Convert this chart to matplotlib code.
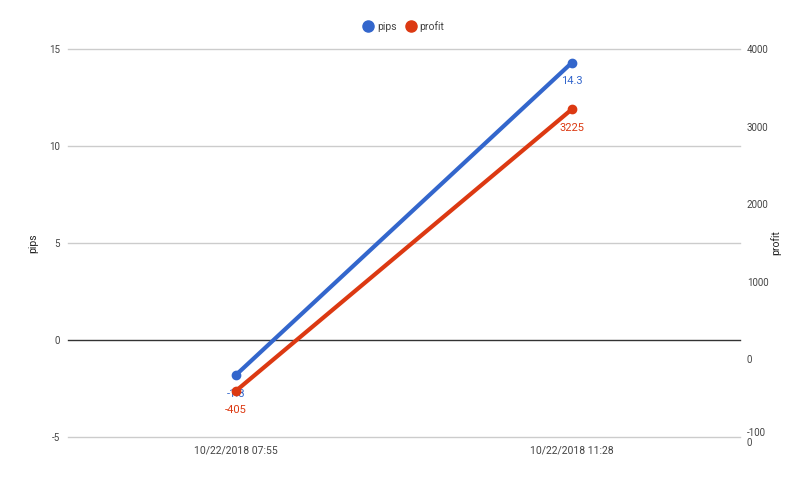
import matplotlib
matplotlib.use('Agg')
import matplotlib.pyplot as plt
from matplotlib.lines import Line2D

plt.rcParams['font.family'] = ['Roboto', 'DejaVu Sans']
plt.rcParams['axes.unicode_minus'] = False

dates = ['10/22/2018 07:55', '10/22/2018 11:28']
pips = [-1.8, 14.3]
profit = [-405, 3225]
pips_ticks = [-5, 0, 5, 10, 15]
profit_ticks = [-1000, 0, 1000, 2000, 3000, 4000]
profit_tick_labels = ['-100\n0', '0', '1000', '2000', '3000', '4000']

blue = '#3366cc'
red = '#dc3912'
text_col = '#444444'

fig = plt.figure(figsize=(8, 4.94), dpi=100)
ax = fig.add_axes([0.085, 0.1154, 0.84, 0.7854])
ax2 = ax.twinx()

x = list(range(len(dates)))

# gridlines from the left axis
for t in pips_ticks:
    ax.axhline(t, color='#333333' if t == 0 else '#cccccc', lw=1, zorder=0,
               clip_on=False)

ax.plot(x, pips, color=blue, lw=3, marker='o', ms=6, zorder=3)
ax2.plot(x, profit, color=red, lw=3, marker='o', ms=6, zorder=3)

for xi, v in zip(x, pips):
    ax.annotate(f'{v:g}', (xi, v), xytext=(0, -10), textcoords='offset points',
                ha='center', va='top', color=blue, fontsize=8)
for xi, v in zip(x, profit):
    ax2.annotate(f'{v:g}', (xi, v), xytext=(0, -10), textcoords='offset points',
                 ha='center', va='top', color=red, fontsize=8)

ax.set_xlim(-0.5, len(dates) - 0.5)
ax.set_ylim(-5, 15)
ax2.set_ylim(-1000, 4000)

ax.set_xticks(x)
ax.set_xticklabels(dates)
ax.set_yticks(pips_ticks)
ax2.set_yticks(profit_ticks)
ax2.set_yticklabels(profit_tick_labels, linespacing=0.95)

for a in (ax, ax2):
    for s in a.spines.values():
        s.set_visible(False)
    a.tick_params(length=0, labelsize=7, colors=text_col)
ax.tick_params(axis='y', pad=6)
ax.tick_params(axis='x', pad=6, labelsize=7.5)
ax2.tick_params(axis='y', pad=5)

ax.set_ylabel('pips', fontsize=7.5, color='#222222')
ax.yaxis.set_label_coords(-0.045, 0.5)
ax2.set_ylabel('profit', fontsize=7.5, color='#222222')
ax2.yaxis.set_label_coords(1.045, 0.5)

handles = [Line2D([], [], ls='', marker='o', ms=8, color=blue),
           Line2D([], [], ls='', marker='o', ms=8, color=red)]
fig.legend(handles, ['pips', 'profit'], loc='center', bbox_to_anchor=(0.503, 0.947),
           ncol=2, frameon=False, fontsize=7.5, handletextpad=0.1, columnspacing=0.6,
           handlelength=1.5, labelcolor='#444444')

fig.savefig('out.png', dpi=100)
